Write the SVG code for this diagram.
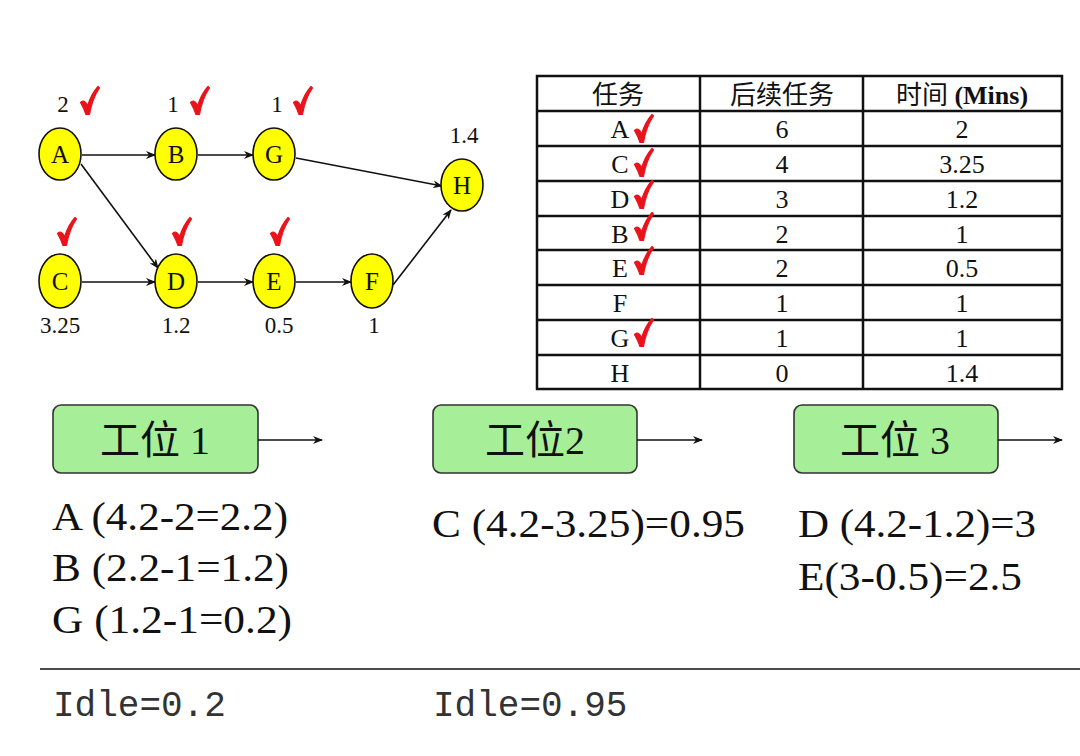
<svg xmlns="http://www.w3.org/2000/svg" xmlns:xlink="http://www.w3.org/1999/xlink" width="1080" height="756" viewBox="0 0 1080 756">
<style>
.nd{fill:#ffff00;stroke:#111;stroke-width:1.6}
.nt{font-family:"Liberation Serif","Noto Sans CJK SC",serif;font-size:25px;text-anchor:middle;fill:#111}
.lb{font-family:"Liberation Serif",serif;font-size:23px;text-anchor:middle;fill:#111}
.ed{stroke:#111;stroke-width:1.6;fill:none;marker-end:url(#ah)}
.tb{stroke:#111;stroke-width:2.5;fill:none}
.tt{font-family:"Liberation Serif","Noto Sans CJK SC",serif;font-size:26px;text-anchor:middle;fill:#111}
.st{fill:#a6ef98;stroke:#333;stroke-width:1.6}
.stt{font-family:"Liberation Serif","Noto Sans CJK SC",serif;font-size:40px;text-anchor:middle;fill:#111}
.big{font-family:"Liberation Serif",serif;font-size:40px;fill:#111}
.mono{font-family:"Liberation Mono",monospace;font-size:36px;fill:#333}
.ck{fill:#e8141c;stroke:#e8141c;stroke-width:1.2;stroke-linejoin:round}
</style>
<defs>
<marker id="ah" markerWidth="10" markerHeight="8" refX="9" refY="4" orient="auto" markerUnits="userSpaceOnUse">
<path d="M0,0 L10,4 L0,8 L3,4 Z" fill="#111"/>
</marker>
<path id="chk" d="M0.5,16.5 C3.5,14 6,15 7.5,20 C10,12 14,5 18,0.5 L19.5,2 C15,8.5 11.5,17 9.5,28.5 L6,28.5 C4.5,24 2.5,20 0.5,16.5 Z"/>
</defs>

<g id="connectors">
<path class="ed" d="M82,155 L155,155"/>
<path class="ed" d="M198,155 L253,155"/>
<path class="ed" d="M296,158 L442,186"/>
<path class="ed" d="M81,164 L158,268"/>
<path class="ed" d="M82,282 L155,282"/>
<path class="ed" d="M198,282 L253,282"/>
<path class="ed" d="M296,282 L351,282"/>
<path class="ed" d="M393,285 L451,210"/>
</g>

<g id="node-A"><ellipse class="nd" cx="60" cy="154" rx="21" ry="26"/><text class="nt" x="60" y="163">A</text><text class="lb" x="63" y="112">2</text><use xlink:href="#chk" class="ck" x="80" y="86"/></g>
<g id="node-B"><ellipse class="nd" cx="176" cy="154" rx="21" ry="26"/><text class="nt" x="176" y="163">B</text><text class="lb" x="173" y="112">1</text><use xlink:href="#chk" class="ck" x="190" y="86"/></g>
<g id="node-G"><ellipse class="nd" cx="274" cy="154" rx="21" ry="26"/><text class="nt" x="274" y="163">G</text><text class="lb" x="277" y="112">1</text><use xlink:href="#chk" class="ck" x="293" y="86"/></g>
<g id="node-H"><ellipse class="nd" cx="462" cy="185" rx="21" ry="26"/><text class="nt" x="462" y="194">H</text><text class="lb" x="464" y="143">1.4</text></g>
<g id="node-C"><ellipse class="nd" cx="60" cy="281" rx="21" ry="27"/><text class="nt" x="60" y="290">C</text><text class="lb" x="60" y="333">3.25</text><use xlink:href="#chk" class="ck" x="57" y="217"/></g>
<g id="node-D"><ellipse class="nd" cx="176" cy="281" rx="21" ry="27"/><text class="nt" x="176" y="290">D</text><text class="lb" x="176" y="333">1.2</text><use xlink:href="#chk" class="ck" x="172" y="217"/></g>
<g id="node-E"><ellipse class="nd" cx="274" cy="281" rx="21" ry="27"/><text class="nt" x="274" y="290">E</text><text class="lb" x="279" y="333">0.5</text><use xlink:href="#chk" class="ck" x="270" y="217"/></g>
<g id="node-F"><ellipse class="nd" cx="372" cy="281" rx="21" ry="27"/><text class="nt" x="372" y="290">F</text><text class="lb" x="374" y="333">1</text></g>

<g id="table">
<rect class="tb" x="537" y="76" width="525" height="313"/>
<path class="tb" d="M700,76 V389 M863,76 V389 M537,111 H1062 M537,146 H1062 M537,181 H1062 M537,216 H1062 M537,250 H1062 M537,285 H1062 M537,320 H1062 M537,355 H1062"/>
<text class="tt" x="618" y="104">任务</text>
<text class="tt" x="782" y="104">后续任务</text>
<text class="tt" x="962" y="104">时间 <tspan font-weight="bold">(Mins)</tspan></text>
<text class="tt" x="620" y="138">A</text><text class="tt" x="782" y="138">6</text><text class="tt" x="962" y="138">2</text>
<text class="tt" x="620" y="173">C</text><text class="tt" x="782" y="173">4</text><text class="tt" x="962" y="173">3.25</text>
<text class="tt" x="620" y="208">D</text><text class="tt" x="782" y="208">3</text><text class="tt" x="962" y="208">1.2</text>
<text class="tt" x="620" y="243">B</text><text class="tt" x="782" y="243">2</text><text class="tt" x="962" y="243">1</text>
<text class="tt" x="620" y="277">E</text><text class="tt" x="782" y="277">2</text><text class="tt" x="962" y="277">0.5</text>
<text class="tt" x="620" y="312">F</text><text class="tt" x="782" y="312">1</text><text class="tt" x="962" y="312">1</text>
<text class="tt" x="620" y="347">G</text><text class="tt" x="782" y="347">1</text><text class="tt" x="962" y="347">1</text>
<text class="tt" x="620" y="382">H</text><text class="tt" x="782" y="382">0</text><text class="tt" x="962" y="382">1.4</text>
<use xlink:href="#chk" class="ck" x="634" y="114"/>
<use xlink:href="#chk" class="ck" x="634" y="148"/>
<use xlink:href="#chk" class="ck" x="634" y="180"/>
<use xlink:href="#chk" class="ck" x="634" y="212"/>
<use xlink:href="#chk" class="ck" x="634" y="246"/>
<use xlink:href="#chk" class="ck" x="634" y="318"/>
</g>

<g id="station-1"><rect class="st" x="53" y="405" width="205" height="68" rx="8"/><text class="stt" x="155" y="454">工位 1</text><path class="ed" d="M258,440 L322,440"/></g>
<g id="station-2"><rect class="st" x="433" y="405" width="204" height="68" rx="8"/><text class="stt" x="535" y="454">工位2</text><path class="ed" d="M637,440 L702,440"/></g>
<g id="station-3"><rect class="st" x="794" y="405" width="204" height="68" rx="8"/><text class="stt" x="895" y="454">工位 3</text><path class="ed" d="M998,440 L1062,440"/></g>

<g id="calcs">
<text class="big" x="52" y="530" textLength="236" lengthAdjust="spacingAndGlyphs">A (4.2-2=2.2)</text>
<text class="big" x="52" y="581" textLength="237" lengthAdjust="spacingAndGlyphs">B (2.2-1=1.2)</text>
<text class="big" x="52" y="633" textLength="240" lengthAdjust="spacingAndGlyphs">G (1.2-1=0.2)</text>
<text class="big" x="432" y="537" textLength="313" lengthAdjust="spacingAndGlyphs">C (4.2-3.25)=0.95</text>
<text class="big" x="798" y="537" textLength="238" lengthAdjust="spacingAndGlyphs">D (4.2-1.2)=3</text>
<text class="big" x="798" y="590" textLength="224" lengthAdjust="spacingAndGlyphs">E(3-0.5)=2.5</text>
</g>

<line x1="40" y1="669" x2="1080" y2="669" stroke="#111" stroke-width="1.6"/>
<text class="mono" x="53" y="716">Idle=0.2</text>
<text class="mono" x="433" y="716">Idle=0.95</text>
</svg>
